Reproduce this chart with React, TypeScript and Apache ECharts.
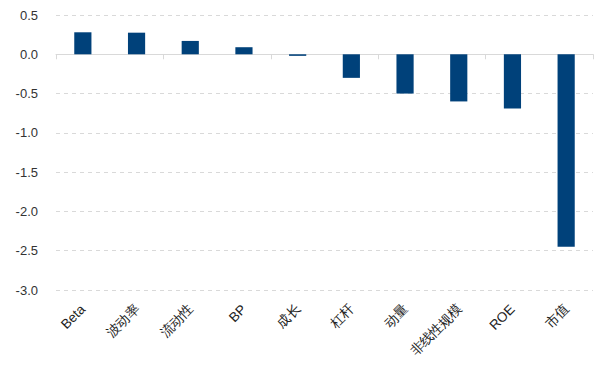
import React, { useEffect, useRef } from "react";
import * as echarts from "echarts";

const categories = ["Beta", "波动率", "流动性", "BP", "成长", "杠杆", "动量", "非线性规模", "ROE", "市值"];
const values = [0.28, 0.275, 0.17, 0.09, -0.02, -0.3, -0.5, -0.6, -0.69, -2.45];

export default function App() {
  const ref = useRef<HTMLDivElement>(null);
  useEffect(() => {
    if (!ref.current) return;
    const chart = echarts.init(ref.current, undefined, { renderer: "svg" });
    chart.setOption({
      animation: false,
      grid: { left: 56, right: 7, top: 15, bottom: 79, containLabel: false },
      xAxis: [
        {
          type: "category",
          data: categories,
          position: "bottom",
          axisLine: { show: false, onZero: false },
          axisTick: { show: false },
          axisLabel: {
            rotate: 45,
            interval: 0,
            margin: 17,
            fontSize: 13.5,
            color: "#222",
            fontFamily: "Liberation Sans, Arial, sans-serif",
          },
        },
        {
          type: "category",
          data: categories,
          position: "bottom",
          axisLine: { show: true, onZero: true, lineStyle: { color: "#d9d9d9", width: 1 } },
          axisTick: { show: true, alignWithLabel: false, length: 5, lineStyle: { color: "#d9d9d9" } },
          axisLabel: { show: false },
        },
      ],
      yAxis: {
        type: "value",
        min: -3,
        max: 0.5,
        interval: 0.5,
        axisLine: { show: false },
        axisTick: { show: false },
        axisLabel: {
          margin: 18,
          fontSize: 13,
          color: "#333",
          fontFamily: "Liberation Sans, Arial, sans-serif",
          formatter: (v: number) => v.toFixed(1),
        },
        splitLine: { show: true, lineStyle: { color: "#d9d9d9", type: [4, 4] } },
      },
      series: [
        {
          type: "bar",
          xAxisIndex: 0,
          data: values,
          barWidth: "32%",
          itemStyle: { color: "#00417a" },
        },
      ],
    });
    return () => chart.dispose();
  }, []);
  return <div ref={ref} style={{ width: 600, height: 369, position: "absolute", left: 0, top: 0 }} />;
}
